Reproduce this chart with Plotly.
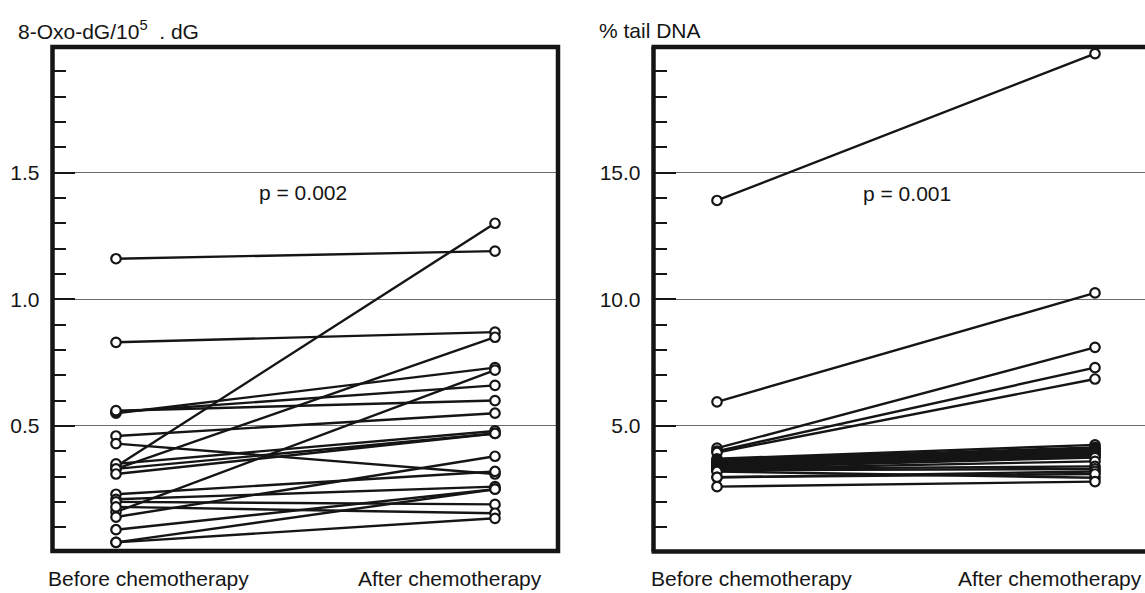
import plotly.graph_objects as go

# ---------------- data ----------------
group_labels = ["Before chemotherapy", "After chemotherapy"]

oxo_before = [1.16, 0.83, 0.34, 0.33, 0.55, 0.16, 0.555, 0.56, 0.46, 0.43, 0.35,
              0.33, 0.31, 0.14, 0.23, 0.21, 0.20, 0.18, 0.09, 0.04, 0.04]
oxo_after = [1.19, 0.87, 1.30, 0.85, 0.73, 0.72, 0.66, 0.60, 0.55, 0.31, 0.48,
             0.47, 0.47, 0.38, 0.32, 0.26, 0.19, 0.155, 0.25, 0.25, 0.135]

tail_before = [13.9, 5.95, 4.12, 4.0, 3.95, 3.70, 3.65, 3.60, 3.55, 3.50, 3.50,
               3.45, 3.40, 3.40, 3.35, 3.30, 3.30, 3.25, 3.20, 2.97, 2.97, 2.60]
tail_after = [19.7, 10.25, 8.1, 7.3, 6.85, 4.25, 4.15, 4.10, 4.05, 4.00, 3.95,
              3.90, 3.85, 3.80, 3.75, 3.60, 3.40, 3.30, 2.95, 3.20, 3.10, 2.80]

oxo_ticks = [0.5, 1.0, 1.5]
oxo_ticktext = ["0.5", "1.0", "1.5"]
tail_ticks = [5, 10, 15]
tail_ticktext = ["5.0", "10.0", "15.0"]

oxo_title = "8-Oxo-dG/10<sup>5</sup>&nbsp; . dG"
tail_title = "% tail DNA"
oxo_p = "p = 0.002"
tail_p = "p = 0.001"

# ---------------- layout helpers ----------------
W, H = 1145, 593
FONT = "Liberation Sans, Arial, sans-serif"
INK = "#151515"


def px(x):
    return x / W


def py(y):
    return 1 - y / H


def paired(before, after):
    xs, ys = [], []
    for b, a in zip(before, after):
        xs += [0, 1, None]
        ys += [b, a, None]
    return xs, ys


fig = go.Figure()

for (bef, aft, xa, ya) in [(oxo_before, oxo_after, "x", "y"),
                           (tail_before, tail_after, "x2", "y2")]:
    xs, ys = paired(bef, aft)
    fig.add_trace(go.Scatter(
        x=xs, y=ys, xaxis=xa, yaxis=ya, mode="lines+markers",
        line=dict(color=INK, width=2.4),
        marker=dict(symbol="circle", size=9.5, color="white",
                    line=dict(color=INK, width=2.2)),
        hoverinfo="skip", showlegend=False))

# panel geometry (pixels)
L1, R1 = 52.5, 558
L2, R2 = 653.5, W
TOP, BOT = 46, 552.5

xaxis_common = dict(showgrid=False, zeroline=False, showticklabels=False,
                    ticks="", showline=False, fixedrange=True)
yaxis_common = dict(showgrid=True, gridcolor="#6a6a6a", gridwidth=1,
                    zeroline=False, showline=False, ticks="inside",
                    ticklen=22, tickwidth=2, tickcolor=INK,
                    tickfont=dict(family=FONT, size=21, color=INK),
                    ticklabelstandoff=12, fixedrange=True)

fig.update_layout(
    width=W, height=H,
    margin=dict(l=0, r=0, t=0, b=0),
    paper_bgcolor="white", plot_bgcolor="white",
    showlegend=False,
    xaxis=dict(domain=[px(L1), px(R1)],
               range=[(L1 - 116) / 379, (R1 - 116) / 379], **xaxis_common),
    xaxis2=dict(domain=[px(L2), 1],
                range=[(L2 - 717) / 378, (R2 - 717) / 378], **xaxis_common),
    yaxis=dict(domain=[py(BOT), py(TOP)], range=[0, 2.0], anchor="x",
               tickvals=oxo_ticks, ticktext=oxo_ticktext,
               minor=dict(ticks="inside", dtick=0.1, ticklen=13, tickwidth=2,
                          tickcolor=INK, showgrid=False),
               **yaxis_common),
    yaxis2=dict(domain=[py(BOT), py(TOP)], range=[0, 20], anchor="x2",
                tickvals=tail_ticks, ticktext=tail_ticktext,
                minor=dict(ticks="inside", dtick=1, ticklen=13, tickwidth=2,
                           tickcolor=INK, showgrid=False),
                **yaxis_common),
)

# frames
FW = 4.5
shapes = [
    dict(type="rect", xref="paper", yref="paper",
         x0=px(L1), x1=px(R1), y0=py(BOT - 1.5), y1=py(TOP + 1),
         line=dict(color=INK, width=FW), layer="above"),
    dict(type="line", xref="paper", yref="paper",
         x0=px(L2), x1=px(L2), y0=py(BOT - 1), y1=py(TOP + 1),
         line=dict(color=INK, width=FW), layer="above"),
    dict(type="line", xref="paper", yref="paper",
         x0=px(L2 - 2), x1=px(W + 20), y0=py(TOP + 1), y1=py(TOP + 1),
         line=dict(color=INK, width=FW), layer="above"),
    dict(type="line", xref="paper", yref="paper",
         x0=px(L2 - 2), x1=px(W + 20), y0=py(BOT - 1), y1=py(BOT - 1),
         line=dict(color=INK, width=FW), layer="above"),
]
fig.update_layout(shapes=shapes)

font = dict(family=FONT, size=21, color=INK)
ann = [
    dict(text=oxo_title, x=px(16), y=py(30), xanchor="left", yanchor="middle"),
    dict(text=tail_title, x=px(597), y=py(31), xanchor="left", yanchor="middle"),
    dict(text=oxo_p, x=px(303), y=py(192), xanchor="center", yanchor="middle"),
    dict(text=tail_p, x=px(907), y=py(193), xanchor="center", yanchor="middle"),
    dict(text=group_labels[0], x=px(148), y=py(578), xanchor="center", yanchor="middle"),
    dict(text=group_labels[1], x=px(450), y=py(578), xanchor="center", yanchor="middle"),
    dict(text=group_labels[0], x=px(751), y=py(578), xanchor="center", yanchor="middle"),
    dict(text=group_labels[1], x=px(1050), y=py(578), xanchor="center", yanchor="middle"),
]
for a in ann:
    a.update(xref="paper", yref="paper", showarrow=False, font=font)
fig.update_layout(annotations=ann)

fig.write_html("out.html", config={"displayModeBar": False},
               post_script="document.body.style.margin='0';document.body.style.overflow='hidden';")
